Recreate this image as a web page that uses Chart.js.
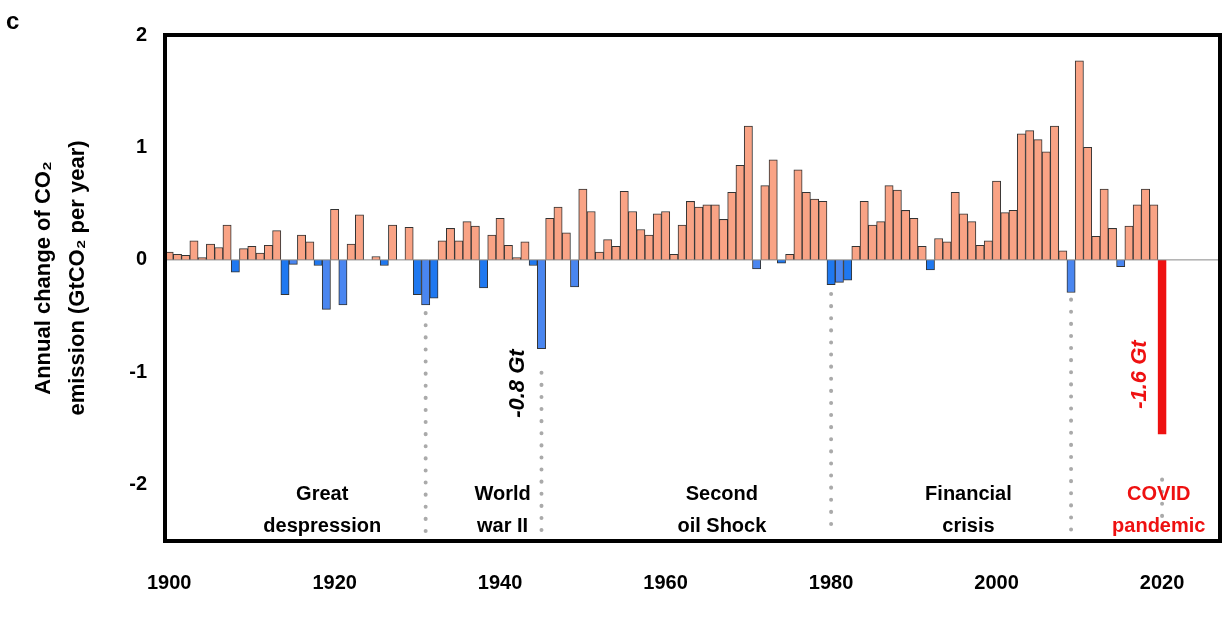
<!DOCTYPE html>
<html><head><meta charset="utf-8">
<script src="https://cdn.jsdelivr.net/npm/chart.js@4"></script>
<style>body{margin:0;background:#fff}#w{width:1224px;height:625px;position:relative}</style>
</head><body><div id="w"><canvas id="c"></canvas></div>
<script>
const years = [];
for (let y = 1900; y <= 2020; y++) years.push(y);
const changes = [
0.07,0.05,0.04,0.17,0.02,0.14,0.11,0.31,-0.11,0.10,
0.12,0.06,0.13,0.26,-0.31,-0.04,0.22,0.16,-0.05,-0.44,
0.45,-0.40,0.14,0.40,0.00,0.03,-0.05,0.31,0.00,0.29,
-0.31,-0.40,-0.34,0.17,0.28,0.17,0.34,0.30,-0.25,0.22,
0.37,0.13,0.02,0.16,-0.05,-0.79,0.37,0.47,0.24,-0.24,
0.63,0.43,0.07,0.18,0.12,0.61,0.43,0.27,0.22,0.41,
0.43,0.05,0.31,0.52,0.47,0.49,0.49,0.36,0.60,0.84,
1.19,-0.08,0.66,0.89,-0.03,0.05,0.80,0.60,0.54,0.52,
-0.22,-0.20,-0.18,0.12,0.52,0.31,0.34,0.66,0.62,0.44,
0.37,0.12,-0.09,0.19,0.16,0.60,0.41,0.34,0.13,0.17,
0.70,0.42,0.44,1.12,1.15,1.07,0.96,1.19,0.08,-0.29,
1.77,1.00,0.21,0.63,0.28,-0.06,0.30,0.49,0.63,0.49,
-1.55];
const yTicks = [-2,-1,0,1,2];
const xTicks = [1900,1920,1940,1960,1980,2000,2020];
const events = [
 {year:1931, top:-0.42, lines:["Great","despression"], cx:1918.5, color:"#000"},
 {year:1945, top:-0.95, lines:["World","war II"], cx:1940.3, color:"#000"},
 {year:1980, top:-0.25, lines:["Second","oil Shock"], cx:1966.8, color:"#000"},
 {year:2009, top:-0.30, lines:["Financial","crisis"], cx:1996.6, color:"#000"},
 {year:2020, top:-1.9, lines:["COVID","pandemic"], cx:2019.6, color:"#ee1111"}
];
const rotLabels = [{year:1942.2, y:-1.1, text:"-0.8 Gt", color:"#000"},{year:2017.3, y:-1.02, text:"-1.6 Gt", color:"#ee1111"}];

const colors = changes.map((v,i)=> years[i]===2020 ? "#ee1111" : (v<0 ? (i%2? "#4a86f0":"#1f78f0") : "#f9a385"));
const borders = changes.map((v,i)=> years[i]===2020 ? "#ee1111" : "#333");

const deco = {
 id:'deco',
 afterDatasetsDraw(chart){
  const {ctx, scales:{x,y}, chartArea:a} = chart;
  ctx.save();
  ctx.strokeStyle="#888"; ctx.lineWidth=1;
  ctx.beginPath(); ctx.moveTo(a.left,y.getPixelForValue(0)); ctx.lineTo(a.right,y.getPixelForValue(0)); ctx.stroke();
  ctx.strokeStyle="#aaa"; ctx.lineWidth=4; ctx.lineCap="round"; ctx.setLineDash([0.1,12]);
  events.forEach(e=>{
   const px=x.getPixelForValue(e.year);
   ctx.beginPath(); ctx.moveTo(px,y.getPixelForValue(e.top)+6); ctx.lineTo(px,a.bottom-6); ctx.stroke();
  });
  ctx.setLineDash([]);
  ctx.font="bold 20px Arial, 'Liberation Sans', sans-serif"; ctx.textAlign="center"; ctx.textBaseline="middle";
  events.forEach(e=>{
   ctx.fillStyle=e.color;
   const px=x.getPixelForValue(e.cx);
   ctx.fillText(e.lines[0],px,a.bottom-47);
   ctx.fillText(e.lines[1],px,a.bottom-15);
  });
  ctx.font="italic bold 22px Arial, 'Liberation Sans', sans-serif";
  rotLabels.forEach(r=>{
   ctx.save(); ctx.fillStyle=r.color;
   ctx.translate(x.getPixelForValue(r.year), y.getPixelForValue(r.y));
   ctx.rotate(-Math.PI/2); ctx.fillText(r.text,0,0); ctx.restore();
  });
  ctx.strokeStyle="#000"; ctx.lineWidth=4;
  ctx.strokeRect(a.left,a.top,a.right-a.left,a.bottom-a.top);
  ctx.fillStyle="#000"; ctx.font="bold 24px Arial, 'Liberation Sans', sans-serif"; ctx.textAlign="left";
  ctx.fillText("c",6,22);
  ctx.save(); ctx.translate(44,(a.top+a.bottom)/2-10); ctx.rotate(-Math.PI/2);
  ctx.font="bold 22px Arial, 'Liberation Sans', sans-serif"; ctx.textAlign="center";
  ctx.fillText("Annual change of CO\u2082",0,0);
  ctx.fillText("emission (GtCO\u2082 per year)",0,34);
  ctx.restore();
  ctx.restore();
 }
};

new Chart(document.getElementById('c'),{
 type:'bar',
 data:{datasets:[{data:years.map((yr,i)=>({x:yr,y:changes[i]})),backgroundColor:colors,borderColor:borders,borderWidth:1,barPercentage:1,categoryPercentage:1}]},
 options:{
  responsive:true, maintainAspectRatio:false, animation:false,
  layout:{padding:{left:0,right:4,top:35,bottom:8}},
  plugins:{legend:{display:false},tooltip:{enabled:false}},
  scales:{
   x:{type:'linear',offset:false,min:1899.5,max:2027,grid:{display:false},border:{display:false},
      afterBuildTicks(s){s.ticks=xTicks.map(v=>({value:v}));},
      ticks:{color:'#000',callback:v=>String(v),font:{size:20,weight:'bold',family:"Arial, 'Liberation Sans', sans-serif"},padding:22}},
   y:{min:-2.5,max:2,grid:{display:false},border:{display:false},
      afterBuildTicks(s){s.ticks=yTicks.map(v=>({value:v}));},
      afterFit(s){s.width=165;},
      ticks:{color:'#000',font:{size:20,weight:'bold',family:"Arial, 'Liberation Sans', sans-serif"},padding:10}}
  }
 },
 plugins:[deco]
});
</script></body></html>
